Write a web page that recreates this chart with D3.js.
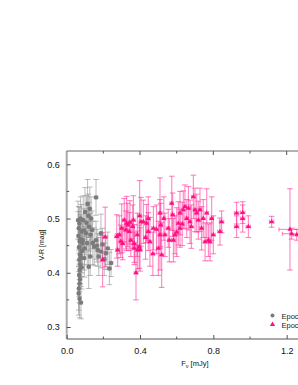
<!DOCTYPE html>
<html><head><meta charset="utf-8">
<script src="https://cdn.jsdelivr.net/npm/d3@7"></script>
<style>html,body{margin:0;padding:0;background:#fff;overflow:hidden}</style>
</head><body>
<script>
// Epoch 1 (gray circles)
const g_x  = [0.062,0.066,0.069,0.064,0.071,0.067,0.073,0.069,0.074,0.070,0.068,0.072,0.070,0.066,0.065,0.070,0.078,0.076,0.080,0.083,0.079,0.085,0.076,0.082,0.087,0.090,0.094,0.096,0.100,0.105,0.108,0.114,0.118,0.120,0.123,0.126,0.130,0.133,0.138,0.142,0.160,0.160,0.165,0.169,0.175,0.187,0.187,0.195,0.214,0.224,0.233,0.242,0.150,0.112,0.098,0.128,0.205];
const g_y  = [0.497,0.482,0.491,0.468,0.458,0.447,0.433,0.424,0.415,0.405,0.396,0.388,0.380,0.371,0.362,0.352,0.345,0.462,0.476,0.440,0.428,0.455,0.500,0.410,0.460,0.497,0.478,0.427,0.512,0.473,0.492,0.527,0.505,0.411,0.485,0.518,0.470,0.500,0.479,0.455,0.539,0.460,0.450,0.442,0.430,0.473,0.439,0.452,0.436,0.445,0.408,0.418,0.448,0.455,0.445,0.430,0.425];
const g_ey = [0.035,0.040,0.030,0.045,0.040,0.035,0.040,0.045,0.035,0.040,0.040,0.045,0.035,0.040,0.040,0.035,0.030,0.045,0.050,0.040,0.035,0.040,0.040,0.040,0.035,0.045,0.040,0.035,0.045,0.040,0.050,0.045,0.040,0.040,0.045,0.040,0.040,0.040,0.035,0.040,0.033,0.035,0.030,0.030,0.035,0.035,0.030,0.030,0.030,0.030,0.030,0.025,0.035,0.040,0.040,0.035,0.030];
const g_ex = [0.006,0.006,0.006,0.006,0.007,0.006,0.007,0.006,0.007,0.006,0.006,0.007,0.006,0.006,0.006,0.006,0.007,0.007,0.007,0.007,0.007,0.008,0.007,0.007,0.008,0.008,0.008,0.008,0.008,0.009,0.009,0.009,0.009,0.009,0.010,0.010,0.010,0.010,0.010,0.010,0.010,0.010,0.010,0.010,0.010,0.010,0.010,0.010,0.010,0.010,0.010,0.010,0.010,0.009,0.008,0.010,0.010];
// Epoch 2 (pink triangles)
const p_x  = [0.196,0.210,0.278,0.287,0.295,0.305,0.314,0.323,0.333,0.341,0.350,0.360,0.369,0.369,0.378,0.387,0.396,0.405,0.418,0.400,0.436,0.445,0.445,0.454,0.473,0.509,0.513,0.509,0.518,0.536,0.554,0.573,0.578,0.582,0.591,0.609,0.618,0.618,0.636,0.645,0.655,0.664,0.673,0.691,0.700,0.709,0.718,0.727,0.736,0.745,0.764,0.773,0.782,0.791,0.800,0.836,0.845,0.927,0.927,0.960,0.960,0.991,1.118,1.218,1.227,1.255,0.273,0.300,0.327,0.345,0.364,0.385,0.430,0.490,0.530,0.560,0.600,0.630,0.680,0.755,0.500,0.470,0.398];
const p_y  = [0.424,0.466,0.442,0.470,0.458,0.454,0.497,0.479,0.488,0.476,0.460,0.485,0.454,0.445,0.400,0.442,0.448,0.494,0.494,0.443,0.491,0.500,0.476,0.457,0.482,0.510,0.488,0.470,0.433,0.470,0.482,0.528,0.507,0.460,0.470,0.491,0.482,0.510,0.516,0.522,0.500,0.519,0.494,0.540,0.516,0.510,0.497,0.516,0.482,0.500,0.510,0.460,0.457,0.500,0.470,0.476,0.494,0.510,0.485,0.511,0.500,0.485,0.494,0.480,0.472,0.470,0.467,0.482,0.491,0.493,0.497,0.470,0.465,0.480,0.500,0.460,0.475,0.490,0.485,0.457,0.445,0.435,0.505];
const p_ey = [0.050,0.055,0.030,0.035,0.030,0.030,0.040,0.035,0.040,0.035,0.030,0.040,0.035,0.030,0.050,0.035,0.040,0.045,0.040,0.040,0.035,0.040,0.035,0.045,0.040,0.065,0.040,0.065,0.060,0.040,0.035,0.050,0.040,0.040,0.035,0.040,0.035,0.040,0.035,0.040,0.035,0.040,0.040,0.040,0.040,0.035,0.035,0.040,0.040,0.035,0.045,0.030,0.035,0.040,0.035,0.025,0.020,0.020,0.020,0.020,0.025,0.020,0.010,0.075,0.010,0.010,0.040,0.045,0.050,0.040,0.045,0.040,0.040,0.045,0.040,0.040,0.045,0.040,0.040,0.035,0.050,0.040,0.065];
const p_ex = [0.010,0.010,0.010,0.010,0.010,0.010,0.010,0.010,0.010,0.010,0.010,0.010,0.010,0.010,0.010,0.010,0.010,0.010,0.010,0.010,0.010,0.010,0.010,0.010,0.010,0.010,0.010,0.010,0.010,0.010,0.010,0.010,0.010,0.010,0.010,0.010,0.010,0.010,0.010,0.010,0.010,0.010,0.010,0.010,0.010,0.010,0.010,0.010,0.010,0.010,0.010,0.010,0.010,0.010,0.010,0.012,0.012,0.012,0.012,0.012,0.012,0.012,0.012,0.060,0.050,0.020,0.010,0.010,0.010,0.010,0.010,0.010,0.010,0.010,0.010,0.010,0.010,0.010,0.010,0.010,0.010,0.010,0.010];

const xTicks = [0.0, 0.4, 0.8, 1.2];
const yTicks = [0.3, 0.4, 0.5, 0.6];
const legendLabels = ["Epoch 1", "Epoch 2"];

const W = 298, H = 385;
const L = 66.7, R = 323, T = 151, B = 339;
const svg = d3.select("body").append("svg").attr("width", W).attr("height", H);
const x = d3.scaleLinear().domain([0, 1.4]).range([L, L + 1.4 * 183.3]);
const y = d3.scaleLinear().domain([0.3, 0.6]).range([327, 164.3]);
const yDom0 = y.invert(B), yDom1 = y.invert(T);
y.domain([yDom0, yDom1]).range([B, T]);

const gData = g_x.map((v, i) => ({x: v, y: g_y[i], ey: g_ey[i], ex: g_ex[i]}));
const pData = p_x.map((v, i) => ({x: v, y: p_y[i], ey: p_ey[i], ex: p_ex[i]}));

function errBars(data, color, op, w) {
  const g = svg.append("g").attr("stroke", color).attr("stroke-opacity", op).attr("stroke-width", w).attr("fill", "none");
  data.forEach(d => {
    const cx = x(d.x), cy = y(d.y);
    const y0 = y(d.y - d.ey), y1 = y(d.y + d.ey);
    g.append("line").attr("x1", cx).attr("x2", cx).attr("y1", y0).attr("y2", y1);
    g.append("line").attr("x1", cx - 2.8).attr("x2", cx + 2.8).attr("y1", y0).attr("y2", y0);
    g.append("line").attr("x1", cx - 2.8).attr("x2", cx + 2.8).attr("y1", y1).attr("y2", y1);
    const x0 = x(d.x - d.ex), x1 = x(d.x + d.ex);
    g.append("line").attr("x1", x0).attr("x2", x1).attr("y1", cy).attr("y2", cy);
    g.append("line").attr("x1", x0).attr("x2", x0).attr("y1", cy - 2).attr("y2", cy + 2);
    g.append("line").attr("x1", x1).attr("x2", x1).attr("y1", cy - 2).attr("y2", cy + 2);
  });
}
errBars(gData, "#8f8f8f", 0.6, 1);
errBars(pData, "#ff3399", 0.6, 1.1);

const gc = "#7a7a7a", pc = "#ff0f82";
svg.append("g").selectAll("circle").data(gData).join("circle")
  .attr("cx", d => x(d.x)).attr("cy", d => y(d.y)).attr("r", 2.2).attr("fill", gc);
const tri = d3.symbol().type(d3.symbolTriangle).size(11);
svg.append("g").selectAll("path").data(pData).join("path")
  .attr("d", tri).attr("transform", d => `translate(${x(d.x)},${y(d.y)})`).attr("fill", pc);

// Axes
const axCol = "#aaaaaa";
svg.append("line").attr("x1", L).attr("x2", R).attr("y1", B).attr("y2", B).attr("stroke", axCol).attr("stroke-width", 2);
svg.append("line").attr("x1", L).attr("x2", L).attr("y1", T).attr("y2", B).attr("stroke", axCol).attr("stroke-width", 2);
svg.append("line").attr("x1", L).attr("x2", R).attr("y1", T).attr("y2", T).attr("stroke", "#666").attr("stroke-width", 1);

const bx = d3.axisBottom(x).tickValues(xTicks).tickFormat(d3.format(".1f")).tickSize(-4).tickPadding(9);
const gx = svg.append("g").attr("transform", `translate(0,${B})`).call(bx);
gx.select(".domain").remove();
gx.selectAll("line").attr("stroke", "#555");
gx.selectAll("text").attr("font-family", "Liberation Sans, Arial, sans-serif").attr("font-size", 9).attr("fill", "#111");
const ly = d3.axisLeft(y).tickValues(yTicks).tickFormat(d3.format(".1f")).tickSize(-4).tickPadding(7);
const gy = svg.append("g").attr("transform", `translate(${L},0)`).call(ly);
gy.select(".domain").remove();
gy.selectAll("line").attr("stroke", "#555");
gy.selectAll("text").attr("font-family", "Liberation Sans, Arial, sans-serif").attr("font-size", 9).attr("fill", "#111");
// minor ticks
svg.append("g").selectAll("line").data([0.2, 0.6, 1.0]).join("line")
  .attr("x1", d => x(d)).attr("x2", d => x(d)).attr("y1", B).attr("y2", B - 2.5).attr("stroke", "#555");
svg.append("g").selectAll("line").data([0.35, 0.45, 0.55]).join("line")
  .attr("y1", d => y(d)).attr("y2", d => y(d)).attr("x1", L).attr("x2", L + 2.5).attr("stroke", "#555");
// top ticks
svg.append("g").selectAll("line").data(xTicks.slice(1)).join("line")
  .attr("x1", d => x(d)).attr("x2", d => x(d)).attr("y1", T).attr("y2", T + 4).attr("stroke", "#555");
svg.append("g").selectAll("line").data([0.2, 0.6, 1.0]).join("line")
  .attr("x1", d => x(d)).attr("x2", d => x(d)).attr("y1", T).attr("y2", T + 2.5).attr("stroke", "#555");

// Axis titles
const ft = "Liberation Sans, Arial, sans-serif";
const xt = svg.append("text").attr("x", (L + R) / 2).attr("y", 366).attr("text-anchor", "middle")
  .attr("font-family", ft).attr("font-size", 7.5).attr("fill", "#111");
xt.append("tspan").text("F");
xt.append("tspan").attr("font-size", 5.5).attr("dy", 2).text("ν");
xt.append("tspan").attr("dy", -2).text(" [mJy]");
svg.append("text").attr("transform", `translate(44,${(T + B) / 2}) rotate(-90)`).attr("text-anchor", "middle")
  .attr("font-family", ft).attr("font-size", 7).attr("fill", "#111").text("V-R [mag]");

// Legend (clipped by the window edge, as in the reference)
svg.append("circle").attr("cx", 272.5).attr("cy", 315.5).attr("r", 2).attr("fill", gc);
svg.append("path").attr("d", d3.symbol().type(d3.symbolTriangle).size(12)).attr("transform", "translate(272.5,324.5)").attr("fill", pc);
svg.append("g").selectAll("text").data(legendLabels).join("text")
  .attr("x", 281.5).attr("y", (d, i) => 318.5 + i * 9).attr("font-family", ft).attr("font-size", 7.5).attr("fill", "#222").text(d => d);
</script>
</body></html>
